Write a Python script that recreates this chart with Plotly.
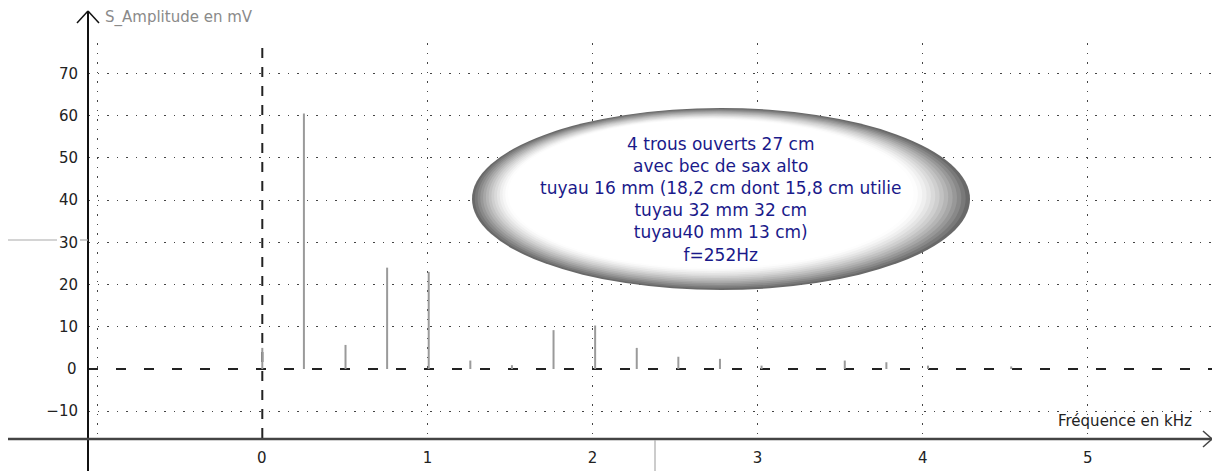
import plotly.graph_objects as go

# Spectrum lines: frequency (kHz) and amplitude (mV)
freq_khz = [0.0, 0.252, 0.504, 0.756, 1.008, 1.26, 1.512, 1.764, 2.016,
            2.268, 2.52, 2.772, 3.024, 3.528, 3.78, 4.032, 4.536]
amp_mv = [5.0, 60.5, 5.7, 24.0, 23.0, 2.0, 0.9, 9.2, 10.3,
          5.0, 2.9, 2.4, 0.8, 2.0, 1.6, 0.8, 0.6]

# dotted grid positions (the origin lines are drawn dashed separately)
y_grid = [-10, 10, 20, 30, 40, 50, 60, 70]
x_grid = [-1, 1, 2, 3, 4, 5]
x_gridtext = ["", "1", "2", "3", "4", "5"]

note_lines = [
    "4 trous ouverts 27 cm",
    "avec bec de sax alto",
    "tuyau 16 mm (18,2 cm dont 15,8 cm utilie",
    "tuyau 32 mm 32 cm",
    "tuyau40 mm 13 cm)",
    "f=252Hz",
]

W, H = 1212, 471
L, R, T, B = 88, 0, 43, 33
PW, PH = W - L - R, H - T - B

FONT = "DejaVu Sans"
STANDOFF = 9


def xp(px):
    return (px - L) / PW


def yp(py):
    return (H - B - py) / PH


# stems drawn as vertical segments from 0 to each amplitude
xs, ys = [], []
for f, a in zip(freq_khz, amp_mv):
    xs += [f, f, None]
    ys += [0, a, None]

fig = go.Figure()
fig.add_trace(go.Scatter(x=xs, y=ys, mode="lines",
                         line=dict(color="#9a9a9a", width=2),
                         hoverinfo="skip", showlegend=False))

shapes = []

# dashed reference lines through the origin
shapes.append(dict(type="line", xref="paper", yref="y", x0=0, x1=1, y0=0, y1=0,
                   line=dict(color="#222", width=2, dash="10px,18px"), layer="below"))
shapes.append(dict(type="line", xref="x", yref="paper", x0=0, x1=0, y0=0, y1=1,
                   line=dict(color="#222", width=2, dash="10px,9px"), layer="below"))

# main axes with arrow heads
shapes.append(dict(type="line", xref="paper", yref="paper",
                   x0=xp(88), x1=xp(88), y0=yp(11), y1=yp(471),
                   line=dict(color="#111", width=2)))
shapes.append(dict(type="line", xref="paper", yref="paper",
                   x0=xp(8), x1=xp(1212), y0=yp(439), y1=yp(439),
                   line=dict(color="#444", width=2.5)))
shapes.append(dict(type="line", xref="paper", yref="paper",
                   x0=xp(77), x1=xp(88), y0=yp(23), y1=yp(11),
                   line=dict(color="#111", width=1.5)))
shapes.append(dict(type="line", xref="paper", yref="paper",
                   x0=xp(88), x1=xp(99), y0=yp(11), y1=yp(23),
                   line=dict(color="#111", width=1.5)))
shapes.append(dict(type="line", xref="paper", yref="paper",
                   x0=xp(1203), x1=xp(1212), y0=yp(431), y1=yp(439),
                   line=dict(color="#444", width=1.5)))
shapes.append(dict(type="line", xref="paper", yref="paper",
                   x0=xp(1203), x1=xp(1212), y0=yp(447), y1=yp(439),
                   line=dict(color="#444", width=1.5)))

# thin grey strokes in the margins
shapes.append(dict(type="line", xref="paper", yref="paper",
                   x0=xp(8), x1=xp(57), y0=yp(240), y1=yp(240),
                   line=dict(color="#aaa", width=1.2)))
shapes.append(dict(type="line", xref="paper", yref="paper",
                   x0=xp(80), x1=xp(88), y0=yp(240), y1=yp(240),
                   line=dict(color="#aaa", width=1.2)))
shapes.append(dict(type="line", xref="paper", yref="paper",
                   x0=xp(655), x1=xp(655), y0=yp(440), y1=yp(471),
                   line=dict(color="#aaa", width=1.2)))

# shaded ellipse: stacked layers shrinking toward an upper-left highlight
cx, cy, rx, ry = 721, 199, 249, 91
n_layers = 28
for k in range(n_layers):
    s = 1 - k * (0.4 / n_layers)
    f = max(0.0, min(1.0, (s - 0.82) / 0.18))
    lvl = int(round(255 - 150 * f ** 1.4))
    ccx = cx - 55 * (1 - s)
    ccy = cy - 28 * (1 - s)
    col = f"rgb({lvl},{lvl},{lvl})"
    shapes.append(dict(type="circle", xref="paper", yref="paper",
                       x0=xp(ccx - rx * s), x1=xp(ccx + rx * s),
                       y0=yp(ccy + ry * s), y1=yp(ccy - ry * s),
                       fillcolor=col, line=dict(width=0)))

tick_font = dict(family=FONT, size=15, color="#222")

annotations = [
    dict(xref="paper", yref="paper", x=xp(cx), y=yp(cy), xanchor="center", yanchor="middle",
         text="<br>".join(note_lines), showarrow=False, align="center",
         font=dict(family=FONT, size=17, color="#1a1a8a")),
    dict(xref="paper", yref="paper", x=xp(103), y=yp(17), xanchor="left", yanchor="middle",
         text="S_Amplitude en mV", showarrow=False,
         font=dict(family=FONT, size=15, color="#8a8a8a")),
    dict(xref="paper", yref="paper", x=xp(1194), y=yp(421), xanchor="right", yanchor="middle",
         text="Fréquence en kHz", showarrow=False,
         font=dict(family=FONT, size=15, color="#222")),
    # origin labels on both axes
    dict(xref="x", yref="paper", x=0, y=0, xanchor="center", yanchor="top",
         yshift=-STANDOFF, text="0", showarrow=False, font=tick_font),
    dict(xref="paper", yref="y", x=0, y=0, xanchor="right", yanchor="middle",
         xshift=-STANDOFF, text="0", showarrow=False, font=tick_font),
]

x_lo = (L - 262.3) / 165.1
x_hi = (W - 262.3) / 165.1
y_lo = (369 - (H - B)) / 4.223
y_hi = (369 - T) / 4.223

grid = dict(showgrid=True, gridcolor="#444", gridwidth=1, griddash="1.5px,8px",
            zeroline=False, showline=False, ticks="")

fig.update_layout(
    width=W, height=H,
    margin=dict(l=L, r=R, t=T, b=B, pad=0),
    paper_bgcolor="white", plot_bgcolor="white",
    showlegend=False,
    xaxis=dict(range=[x_lo, x_hi], tickvals=x_grid, ticktext=x_gridtext,
               ticklabelstandoff=STANDOFF, tickfont=tick_font, **grid),
    yaxis=dict(range=[y_lo, y_hi], tickvals=y_grid,
               ticklabelstandoff=STANDOFF, tickfont=tick_font, **grid),
    shapes=shapes,
    annotations=annotations,
)

fig.write_html("out.html")
